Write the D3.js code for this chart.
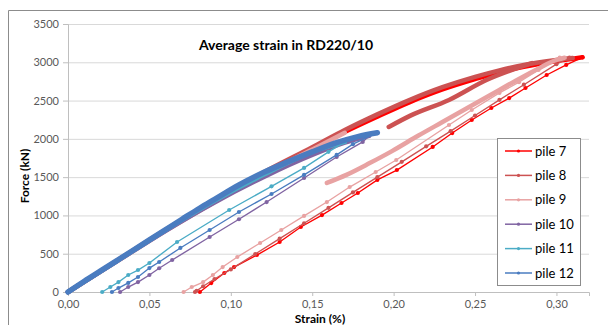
<!DOCTYPE html>
<html>
<head>
<meta charset="utf-8">
<script src="https://cdn.jsdelivr.net/npm/d3@7/dist/d3.min.js"></script>
<style>
  body { margin: 0; background: #fff; }
  text { font-family: Lato, "Open Sans", sans-serif; }
</style>
</head>
<body>
<svg id="chart" width="608" height="325"></svg>
<script>
const title = 'Average strain in RD220/10';
const xTicks = [0, 0.05, 0.10, 0.15, 0.20, 0.25, 0.30];
const yTicks = [0, 500, 1000, 1500, 2000, 2500, 3000, 3500];
const pileNames = ['pile 7', 'pile 8', 'pile 9', 'pile 10', 'pile 11', 'pile 12'];
const pileColors = ['#ff0000', '#cc5252', '#e8a2a2', '#8064a2', '#4bacc6', '#4a7cc0'];

// [strain %, force kN]; loading branches are dense in the source, unloading ones sparse
const pile7Load = [[0, 0], [0.03, 405], [0.06, 805], [0.09, 1180], [0.12, 1545], [0.15, 1870], [0.17, 2090],
  [0.19, 2290], [0.21, 2480], [0.23, 2645], [0.25, 2780], [0.265, 2870], [0.28, 2940], [0.30, 3015], [0.316, 3065]];
const pile7Unload = [[0.316, 3065], [0.306, 2965], [0.294, 2834], [0.281, 2664], [0.271, 2533], [0.260, 2403],
  [0.248, 2246], [0.236, 2076], [0.224, 1894], [0.202, 1593], [0.190, 1463], [0.178, 1293], [0.168, 1162],
  [0.156, 1005], [0.143, 849], [0.130, 653], [0.116, 483], [0.102, 326], [0.096, 248], [0.088, 117], [0.081, 0]];

const pile8Load = [[0, 0], [0.03, 410], [0.06, 815], [0.09, 1195], [0.12, 1560], [0.15, 1890], [0.17, 2115],
  [0.19, 2320], [0.21, 2510], [0.23, 2675], [0.25, 2810], [0.265, 2895], [0.28, 2965], [0.30, 3030], [0.31, 3055]];
const pile8Reload = [[0.197, 2155], [0.21, 2300], [0.234, 2508], [0.257, 2769], [0.285, 2990]];
const pile8Unload = [[0.308, 3060], [0.30, 2975], [0.28, 2707], [0.265, 2510], [0.25, 2305], [0.235, 2100],
  [0.22, 1903], [0.205, 1700], [0.19, 1500], [0.175, 1300], [0.16, 1099], [0.145, 898], [0.13, 697],
  [0.115, 496], [0.10, 295], [0.09, 170], [0.083, 75], [0.079, 15], [0.078, 0]];

const pile9Load = [[0, 0], [0.03, 400], [0.06, 800], [0.09, 1175], [0.12, 1530], [0.15, 1860], [0.17, 2080]];
const pile9Reload = [[0.159, 1424], [0.171, 1530], [0.185, 1680], [0.199, 1840], [0.215, 2040], [0.23, 2220],
  [0.245, 2400], [0.26, 2580], [0.275, 2760], [0.29, 2930], [0.30, 3030], [0.305, 3060]];
const pile9Unload = [[0.302, 3060], [0.289, 2900], [0.277, 2740], [0.265, 2600], [0.248, 2377], [0.234, 2181],
  [0.2016, 1724], [0.189, 1567], [0.173, 1371], [0.159, 1175], [0.145, 993], [0.131, 810], [0.118, 640],
  [0.104, 457], [0.095, 326], [0.089, 222], [0.083, 130], [0.076, 65], [0.071, 0]];

const pile10Load = [[0, 0], [0.03, 400], [0.06, 800], [0.09, 1170], [0.12, 1500], [0.15, 1790], [0.17, 1950], [0.185, 2040]];
const pile10Unload = [[0.185, 2040], [0.181, 1960], [0.165, 1763], [0.145, 1489], [0.122, 1175], [0.105, 950],
  [0.087, 718], [0.064, 418], [0.056, 310], [0.050, 222], [0.043, 130], [0.037, 65], [0.032, 0]];

const pile11Load = [[0, 0], [0.03, 405], [0.06, 810], [0.09, 1190], [0.12, 1530], [0.15, 1830], [0.17, 1960]];
const pile11Unload = [[0.17, 1960], [0.16, 1830], [0.145, 1620], [0.125, 1380], [0.099, 1071], [0.067, 653],
  [0.05, 379], [0.043, 287], [0.037, 222], [0.031, 130], [0.026, 65], [0.021, 0]];

const pile12Load = [[0, 0], [0.01, 140], [0.02, 275], [0.03, 410], [0.04, 545], [0.05, 680], [0.06, 815], [0.07, 950],
  [0.081, 1097], [0.09, 1210], [0.105, 1397], [0.12, 1560], [0.135, 1700], [0.15, 1830], [0.165, 1950],
  [0.178, 2030], [0.19, 2080]];
const pile12Unload = [[0.19, 2080], [0.175, 1930], [0.165, 1790], [0.145, 1530], [0.125, 1280], [0.105, 1045],
  [0.087, 810], [0.069, 575], [0.056, 392], [0.05, 313], [0.043, 196], [0.037, 118], [0.031, 52], [0.027, 0]];

const series = [
  { bands: [pile7Load], lines: [pile7Unload] },
  { bands: [pile8Load, pile8Reload], lines: [pile8Unload] },
  { bands: [pile9Load, pile9Reload], lines: [pile9Unload] },
  { bands: [pile10Load], lines: [pile10Unload] },
  { bands: [pile11Load], lines: [pile11Unload] },
  { bands: [pile12Load], lines: [pile12Unload] }
];

const svg = d3.select('#chart');
const margin = { top: 24, right: 19, bottom: 33, left: 68 };
const width = 608 - margin.left - margin.right,
  height = 325 - margin.top - margin.bottom;

// outer chart frame
svg.append('path')
  .attr('d', 'M8.5,330V10.5H610')
  .attr('fill', 'none')
  .attr('stroke', '#8c8c8c');

const g = svg.append('g').attr('transform', 'translate(' + margin.left + ',' + margin.top + ')');

const x = d3.scaleLinear().domain([0, 0.32]).range([0, width]);
const y = d3.scaleLinear().domain([0, 3500]).range([height, 0]);

g.append('g')
  .call(d3.axisLeft(y).tickValues(yTicks).tickSize(-width).tickFormat(''))
  .call(a => a.select('.domain').remove())
  .selectAll('line').attr('stroke', '#d9d9d9');

g.append('g')
  .call(d3.axisLeft(y).tickValues(yTicks).tickSize(5).tickPadding(4).tickFormat(d3.format('d')))
  .call(a => a.select('.domain').attr('stroke', '#bfbfbf'))
  .call(a => a.selectAll('line').attr('stroke', '#bfbfbf'))
  .selectAll('text').attr('fill', '#595959').style('font-size', '11px');

const commaFmt = d => d3.format('.2f')(d).replace('.', ',');
g.append('g')
  .attr('transform', 'translate(0,' + height + ')')
  .call(d3.axisBottom(x).tickValues(xTicks).tickSize(4).tickPadding(4).tickFormat(commaFmt))
  .call(a => a.select('.domain').attr('stroke', '#bfbfbf'))
  .call(a => a.selectAll('line').attr('stroke', '#bfbfbf'))
  .selectAll('text').attr('fill', '#595959').style('font-size', '11px');

const line = d3.line().x(d => x(d[0])).y(d => y(d[1])).curve(d3.curveMonotoneX);
const straight = d3.line().x(d => x(d[0])).y(d => y(d[1]));

series.forEach((s, i) => {
  const color = pileColors[i];
  const sg = g.append('g');
  s.bands.forEach(b => {
    sg.append('path').datum(b)
      .attr('fill', 'none').attr('stroke', color)
      .attr('stroke-width', i === 5 ? 5.5 : 4.5)
      .attr('stroke-linejoin', 'round').attr('stroke-linecap', 'round')
      .attr('d', line);
  });
  s.lines.forEach(l => {
    sg.append('path').datum(l)
      .attr('fill', 'none').attr('stroke', color)
      .attr('stroke-width', 1.4).attr('d', straight);
    sg.selectAll(null).data(l).enter().append('circle')
      .attr('cx', d => x(d[0])).attr('cy', d => y(d[1]))
      .attr('r', 2.1).attr('fill', color);
  });
});

svg.append('text')
  .attr('x', 286).attr('y', 50)
  .attr('text-anchor', 'middle')
  .style('font-size', '14px').style('font-weight', 'bold')
  .attr('fill', '#000')
  .text(title);

svg.append('text')
  .attr('transform', 'translate(29,176) rotate(-90)')
  .attr('text-anchor', 'middle')
  .style('font-size', '12px').style('font-weight', 'bold')
  .text('Force (kN)');

svg.append('text')
  .attr('x', 320).attr('y', 323)
  .attr('text-anchor', 'middle')
  .style('font-size', '12px').style('font-weight', 'bold')
  .text('Strain (%)');

// legend
const legend = svg.append('g').attr('transform', 'translate(497,138)');
legend.append('rect')
  .attr('x', 0.5).attr('y', 0.5).attr('width', 83).attr('height', 147)
  .attr('fill', '#fff').attr('stroke', '#8c8c8c');
pileNames.forEach((name, i) => {
  const ly = 13 + i * 24.4;
  legend.append('line')
    .attr('x1', 8).attr('x2', 35).attr('y1', ly).attr('y2', ly)
    .attr('stroke', pileColors[i]).attr('stroke-width', 1.5);
  legend.append('circle').attr('cx', 21.5).attr('cy', ly).attr('r', 1.6).attr('fill', pileColors[i]);
  legend.append('text')
    .attr('x', 38).attr('y', ly + 4.5)
    .style('font-size', '13px').attr('fill', '#000')
    .text(name);
});
</script>
</body>
</html>
